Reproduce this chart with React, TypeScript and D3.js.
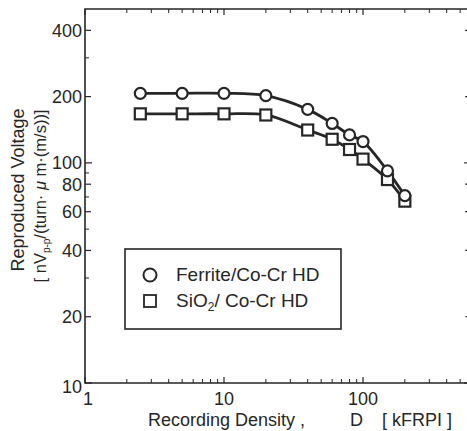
import React from "react";
import * as d3 from "d3";

const densities = [2.5, 5, 10, 20, 40, 60, 80, 100, 150, 200];
const ferriteVoltage = [207, 207, 207, 202, 175, 151, 134, 125, 92, 71];
const sio2Voltage = [167, 167, 167, 165, 141, 128, 115, 104, 84, 67];

const yTickLabels = [10, 20, 40, 60, 80, 100, 200, 400];
const yMinorTicks = [30, 50, 70, 90, 300];
const xTickLabels = [1, 10, 100];
const xMinorTicks = [2, 3, 4, 5, 6, 7, 8, 9, 20, 30, 40, 50, 60, 70, 80, 90, 200, 300, 400, 500];

const legendLabels = ["Ferrite/Co-Cr HD", "SiO2/ Co-Cr HD"];

const W = 467;
const H = 431;
const FONT = "'Liberation Sans', Arial, sans-serif";
const INK = "#262626";

export default function App() {
  const x = d3.scaleLog().domain([1, 600]).range([85, 85 + 139 * Math.log10(600)]);
  const y = d3.scaleLog().domain([10, 500]).range([383, 9]);
  const [x0, x1] = x.range();
  const [y0, y1] = y.range();

  const line = d3
    .line<[number, number]>()
    .x((d) => x(d[0]))
    .y((d) => y(d[1]))
    .curve(d3.curveCatmullRom.alpha(0.5));

  const fData = densities.map((d, i) => [d, ferriteVoltage[i]] as [number, number]);
  const sData = densities.map((d, i) => [d, sio2Voltage[i]] as [number, number]);

  const majorLen = 6;
  const minorLen = 4;

  return (
    <svg
      width={W}
      height={H}
      style={{ position: "absolute", left: 0, top: 0, background: "#fff" }}
      fontFamily={FONT}
    >
      <rect x={0} y={0} width={W} height={H} fill="#fff" />
      {/* frame */}
      <path
        d={`M${x0},${y1} L${x1},${y1} L${x1},${y0} L${x0},${y0} Z`}
        fill="none"
        stroke={INK}
        strokeWidth={1.6}
      />
      {/* x ticks bottom & top */}
      {xTickLabels.map((t) => (
        <g key={"xm" + t} stroke={INK} strokeWidth={1.2}>
          <line x1={x(t)} x2={x(t)} y1={y0} y2={y0 - majorLen} />
          <line x1={x(t)} x2={x(t)} y1={y1} y2={y1 + majorLen} />
        </g>
      ))}
      {xMinorTicks.map((t) => (
        <g key={"xn" + t} stroke={INK} strokeWidth={1}>
          <line x1={x(t)} x2={x(t)} y1={y0} y2={y0 - minorLen} />
          <line x1={x(t)} x2={x(t)} y1={y1} y2={y1 + minorLen} />
        </g>
      ))}
      {/* y ticks left & right */}
      {yTickLabels.map((t, i) => {
        const len = t === 100 || t === 10 ? majorLen + 1 : majorLen;
        return (
          <g key={"ym" + i} stroke={INK} strokeWidth={1.2}>
            <line x1={x0} x2={x0 + len} y1={y(t)} y2={y(t)} />
            <line x1={x1} x2={x1 - len} y1={y(t)} y2={y(t)} />
          </g>
        );
      })}
      {yMinorTicks.map((t) => (
        <g key={"yn" + t} stroke={INK} strokeWidth={1}>
          <line x1={x0} x2={x0 + minorLen} y1={y(t)} y2={y(t)} />
          <line x1={x1} x2={x1 - minorLen} y1={y(t)} y2={y(t)} />
        </g>
      ))}
      {/* y tick labels */}
      {yTickLabels.map((t) => (
        <text
          key={"yl" + t}
          x={x0 - 3}
          y={t === 10 ? y(t) + 4 : y(t)}
          dy="0.36em"
          textAnchor="end"
          fontSize={18}
          fill={INK}
        >
          {t}
        </text>
      ))}
      {/* x tick labels */}
      {xTickLabels.map((t) => (
        <text
          key={"xl" + t}
          x={t === 1 ? x(t) + 3 : x(t)}
          y={y0 + 22}
          textAnchor="middle"
          fontSize={18}
          fill={INK}
        >
          {t}
        </text>
      ))}
      {/* axis titles */}
      <text x={148} y={426} fontSize={18} fill={INK}>
        Recording Density ,
      </text>
      <text x={350} y={426} fontSize={18} fill={INK}>
        D
      </text>
      <text x={452} y={426} textAnchor="end" fontSize={18} fill={INK} xmlSpace="preserve">
        {"[ kFRPI ]"}
      </text>
      <text
        transform="translate(24,190) rotate(-90)"
        textAnchor="middle"
        fontSize={18}
        fill={INK}
      >
        Reproduced Voltage
      </text>
      <text
        transform="translate(46,196) rotate(-90)"
        textAnchor="middle"
        fontSize={16.5}
        fill={INK}
      >
        <tspan>[ nV</tspan>
        <tspan fontSize={10} dy={4}>p-p</tspan>
        <tspan dy={-4}>/(turn· </tspan>
        <tspan fontStyle="italic">μ</tspan>
        <tspan> m·(m/s))]</tspan>
      </text>
      {/* series lines */}
      <path d={line(fData) || ""} fill="none" stroke={INK} strokeWidth={2.8} />
      <path d={line(sData) || ""} fill="none" stroke={INK} strokeWidth={2.8} />
      {/* markers */}
      {sData.map((d, i) => (
        <rect
          key={"s" + i}
          x={x(d[0]) - 5.5}
          y={y(d[1]) - 5.5}
          width={11}
          height={11}
          fill="#fff"
          stroke={INK}
          strokeWidth={2.2}
        />
      ))}
      {fData.map((d, i) => (
        <circle
          key={"c" + i}
          cx={x(d[0])}
          cy={y(d[1])}
          r={5.5}
          fill="#fff"
          stroke={INK}
          strokeWidth={2.2}
        />
      ))}
      {/* legend */}
      <rect x={125} y={249} width={216} height={80} fill="#fff" stroke={INK} strokeWidth={1.6} />
      <circle cx={150} cy={275} r={6.5} fill="#fff" stroke={INK} strokeWidth={2} />
      <rect x={144} y={295} width={12} height={12} fill="#fff" stroke={INK} strokeWidth={1.8} />
      <text x={176} y={281} fontSize={19} fill={INK}>
        {legendLabels[0]}
      </text>
      <text x={176} y={307} fontSize={19} fill={INK}>
        <tspan>SiO</tspan>
        <tspan fontSize={12} dy={4}>2</tspan>
        <tspan dy={-4}>/ Co-Cr HD</tspan>
      </text>
    </svg>
  );
}
